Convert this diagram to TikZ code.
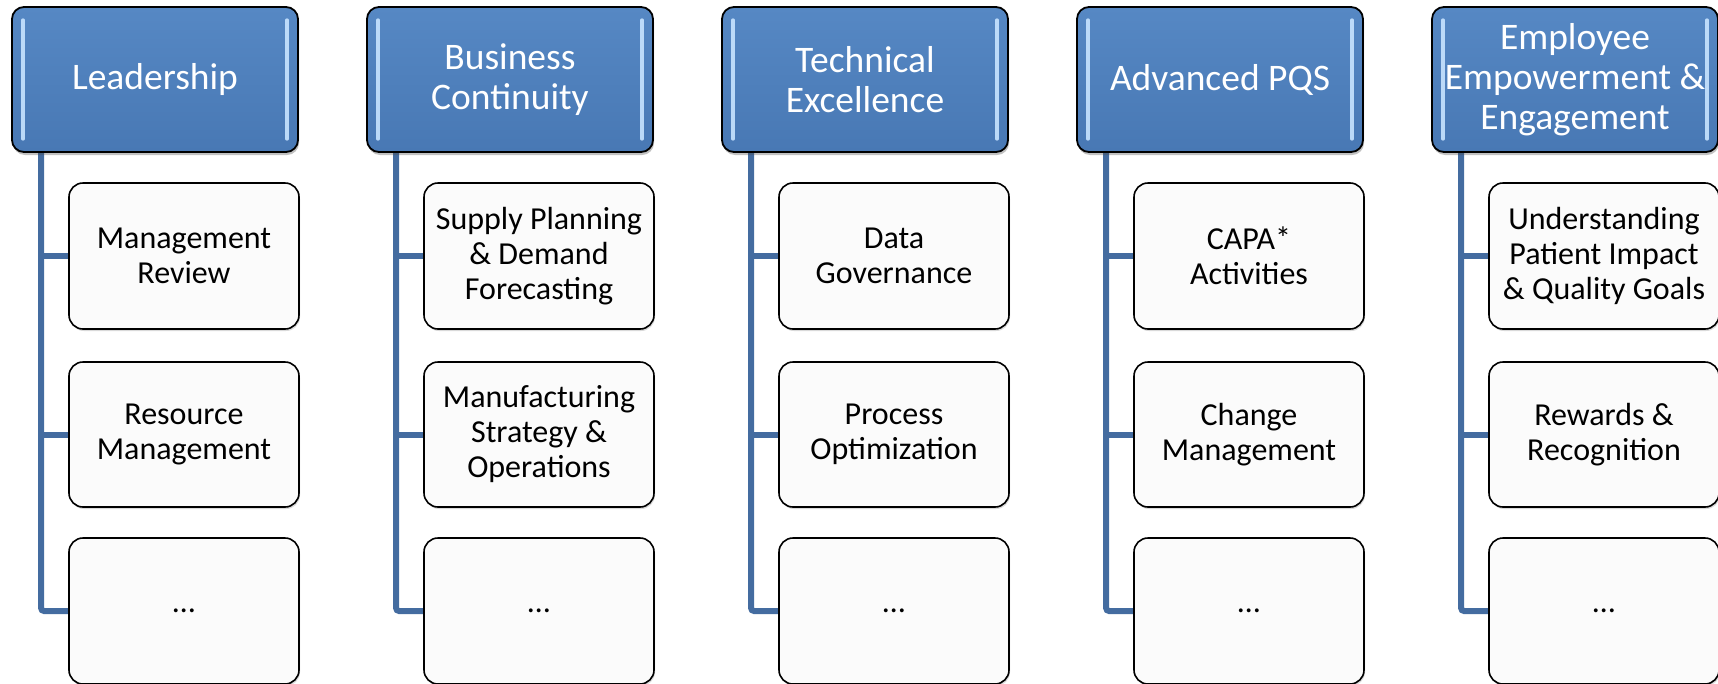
\documentclass[tikz,border=0pt]{standalone}
\usepackage{fontspec}
\setmainfont{Carlito}
\usetikzlibrary{shadows,calc}
\pgfdeclarelayer{bg}
\pgfsetlayers{bg,main}
\definecolor{hdrtop}{RGB}{86,136,196}
\definecolor{hdrbot}{RGB}{72,120,180}
\definecolor{connblue}{RGB}{68,108,160}
\definecolor{glint}{RGB}{200,228,255}
\definecolor{childfill}{RGB}{251,251,251}
\tikzset{
  hdr/.style={draw=black, line width=1.8pt, rounded corners=12pt,
    top color=hdrtop, bottom color=hdrbot,
    minimum width=286pt, minimum height=145pt, inner sep=0pt,
    text=white, align=center, font=\fontsize{37.5}{40}\selectfont,
    drop shadow={shadow xshift=1pt, shadow yshift=-3pt, opacity=0.35, fill=black!70}},
  child/.style={draw=black, line width=1.6pt, rounded corners=14pt,
    fill=childfill,
    minimum width=230pt, inner sep=0pt,
    text=black, align=center, font=\fontsize{32}{35}\selectfont,
    drop shadow={shadow xshift=1pt, shadow yshift=-2pt, opacity=0.25, fill=black!60}},
  conn/.style={draw=connblue, line width=6pt, rounded corners=3pt},
  glintbar/.style={draw=glint, line width=3.5pt, line cap=round, opacity=0.9}
}
\begin{document}
\begin{tikzpicture}[x=1pt,y=-1pt]
\useasboundingbox (0,0) rectangle (1718,683);
\foreach \i/\htext/\ca/\cb in {
  0/{Leadership}/{Management\\Review}/{Resource\\Management},
  1/{Business\\Continuity}/{Supply Planning\\\& Demand\\Forecasting}/{Manufacturing\\Strategy \&\\Operations},
  2/{Technical\\Excellence}/{Data\\Governance}/{Process\\Optimization},
  3/{Advanced PQS}/{CAPA*\\Activities}/{Change\\Management},
  4/{Employee\\Empowerment \&\\Engagement}/{Understanding\\Patient Impact\\\& Quality Goals}/{Rewards \&\\Recognition}}
{
  \pgfmathsetmacro{\ox}{355*\i}
  \node[child, minimum height=146pt] (a\i) at (\ox+184,256) {\ca};
  \node[child, minimum height=145pt] (b\i) at (\ox+184,434.5) {\cb};
  \node[child, minimum height=146pt] (c\i) at (\ox+184,611) {\ldots};
  \node[hdr] (h\i) at (\ox+155,79.5) {\htext};
  \coordinate (t\i) at ($(h\i.south west)+(30,0)$);
  \draw[glintbar] ($(h\i.north west)+(12,14)$) -- ($(h\i.south west)+(12,-14)$);
  \draw[glintbar] ($(h\i.north east)+(-12,14)$) -- ($(h\i.south east)+(-12,-14)$);
  \begin{pgfonlayer}{bg}
    \draw[conn] (t\i) |- (c\i.west);
    \draw[conn, rounded corners=0pt] (a\i.west) -- (a\i.west -| t\i);
    \draw[conn, rounded corners=0pt] (b\i.west) -- (b\i.west -| t\i);
  \end{pgfonlayer}
}
\end{tikzpicture}
\end{document}
